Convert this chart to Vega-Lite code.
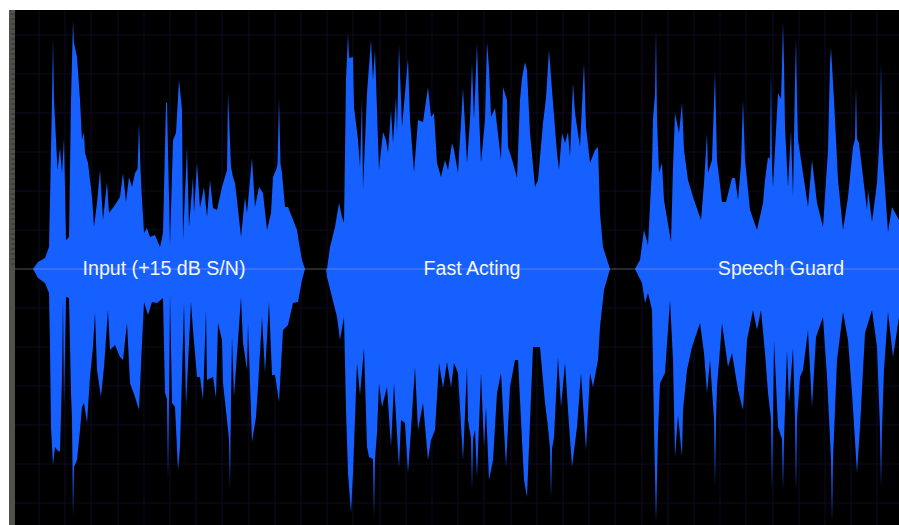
{"$schema":"https://vega.github.io/schema/vega-lite/v6.json","width":890,"height":515,"autosize":{"type":"none"},"padding":{"left":9,"top":10,"right":0,"bottom":0},"background":"#ffffff","view":{"fill":"#000000","stroke":null},
"datasets":{
"upper":[{"t":33,"a":0},{"t":38,"a":7},{"t":45,"a":11},{"t":49,"a":22},{"t":50,"a":69},{"t":52,"a":169},{"t":53,"a":231},{"t":54,"a":169},{"t":56,"a":129},{"t":57.5,"a":99},{"t":60,"a":121},{"t":62,"a":96},{"t":64,"a":131},{"t":66,"a":29},{"t":69,"a":32},{"t":71,"a":169},{"t":73,"a":248},{"t":74,"a":226},{"t":77,"a":212},{"t":80,"a":169},{"t":82,"a":129},{"t":84,"a":137},{"t":85,"a":116},{"t":88,"a":106},{"t":92,"a":72},{"t":94,"a":42},{"t":97,"a":66},{"t":100,"a":99},{"t":103,"a":49},{"t":107,"a":87},{"t":109,"a":56},{"t":115,"a":64},{"t":120,"a":72},{"t":123,"a":96},{"t":126,"a":67},{"t":129,"a":92},{"t":132,"a":82},{"t":135,"a":96},{"t":137.5,"a":100},{"t":139,"a":146},{"t":140.5,"a":100},{"t":142,"a":69},{"t":144,"a":36},{"t":147,"a":41},{"t":150,"a":32},{"t":155,"a":34},{"t":160,"a":22},{"t":163,"a":36},{"t":166,"a":166},{"t":167,"a":167},{"t":170,"a":24},{"t":173,"a":129},{"t":176,"a":136},{"t":179,"a":189},{"t":182,"a":159},{"t":183,"a":29},{"t":187,"a":122},{"t":189,"a":42},{"t":193,"a":92},{"t":194,"a":56},{"t":197,"a":106},{"t":200,"a":61},{"t":204,"a":82},{"t":207,"a":52},{"t":210,"a":89},{"t":213,"a":61},{"t":217,"a":59},{"t":222,"a":82},{"t":227,"a":99},{"t":228,"a":176},{"t":231,"a":102},{"t":233,"a":92},{"t":235,"a":86},{"t":237,"a":69},{"t":241,"a":32},{"t":245,"a":72},{"t":247,"a":56},{"t":252,"a":111},{"t":255,"a":62},{"t":259,"a":82},{"t":263,"a":76},{"t":267,"a":39},{"t":271,"a":56},{"t":273,"a":92},{"t":276,"a":99},{"t":277.5,"a":105},{"t":279,"a":171},{"t":280.5,"a":105},{"t":282,"a":96},{"t":285,"a":62},{"t":288,"a":62},{"t":292,"a":52},{"t":297,"a":39},{"t":299,"a":26},{"t":302,"a":9},{"t":305,"a":0},{"t":327,"a":0},{"t":330,"a":22},{"t":335,"a":42},{"t":339,"a":66},{"t":342,"a":52},{"t":344,"a":46},{"t":346,"a":189},{"t":348,"a":236},{"t":349,"a":211},{"t":353,"a":212},{"t":354,"a":162},{"t":358,"a":129},{"t":360,"a":102},{"t":362,"a":171},{"t":363,"a":79},{"t":367,"a":176},{"t":371,"a":229},{"t":373,"a":189},{"t":375,"a":219},{"t":377,"a":159},{"t":379,"a":99},{"t":383,"a":137},{"t":386,"a":129},{"t":388,"a":116},{"t":391,"a":159},{"t":393,"a":126},{"t":396,"a":172},{"t":397,"a":136},{"t":399,"a":224},{"t":402,"a":142},{"t":405,"a":176},{"t":408,"a":211},{"t":410,"a":149},{"t":414,"a":97},{"t":418,"a":149},{"t":423,"a":147},{"t":428,"a":182},{"t":431,"a":152},{"t":434,"a":156},{"t":437,"a":106},{"t":441,"a":92},{"t":445,"a":109},{"t":448,"a":99},{"t":452,"a":126},{"t":454,"a":119},{"t":458,"a":96},{"t":463,"a":181},{"t":467,"a":106},{"t":470,"a":149},{"t":472,"a":206},{"t":474,"a":149},{"t":477,"a":226},{"t":479,"a":156},{"t":481,"a":106},{"t":485,"a":149},{"t":487,"a":227},{"t":489,"a":201},{"t":491,"a":152},{"t":495,"a":161},{"t":501,"a":109},{"t":503,"a":182},{"t":507,"a":169},{"t":508,"a":122},{"t":513,"a":106},{"t":517,"a":91},{"t":520,"a":169},{"t":522,"a":191},{"t":525,"a":207},{"t":527,"a":199},{"t":530,"a":136},{"t":535,"a":82},{"t":538,"a":89},{"t":543,"a":146},{"t":546,"a":171},{"t":549,"a":219},{"t":552,"a":179},{"t":557,"a":116},{"t":559,"a":99},{"t":562,"a":136},{"t":565,"a":126},{"t":568,"a":137},{"t":570,"a":112},{"t":573,"a":186},{"t":575,"a":156},{"t":580,"a":122},{"t":584,"a":206},{"t":586,"a":142},{"t":590,"a":106},{"t":595,"a":119},{"t":598,"a":122},{"t":600,"a":56},{"t":603,"a":22},{"t":610,"a":0},{"t":635,"a":0},{"t":640,"a":9},{"t":644,"a":39},{"t":648,"a":24},{"t":652,"a":102},{"t":653,"a":150},{"t":655,"a":175},{"t":656,"a":241},{"t":657,"a":150},{"t":659,"a":96},{"t":662,"a":106},{"t":664,"a":69},{"t":671,"a":27},{"t":673,"a":102},{"t":675,"a":156},{"t":679,"a":136},{"t":682,"a":166},{"t":684,"a":119},{"t":688,"a":89},{"t":693,"a":72},{"t":701,"a":49},{"t":704,"a":86},{"t":707,"a":136},{"t":708,"a":96},{"t":712,"a":109},{"t":715,"a":197},{"t":717,"a":109},{"t":722,"a":67},{"t":726,"a":67},{"t":732,"a":91},{"t":735,"a":91},{"t":738,"a":69},{"t":741,"a":105},{"t":743,"a":169},{"t":745,"a":109},{"t":750,"a":59},{"t":757,"a":39},{"t":763,"a":66},{"t":765,"a":89},{"t":768,"a":112},{"t":770,"a":110},{"t":771,"a":201},{"t":772,"a":100},{"t":773,"a":82},{"t":778,"a":176},{"t":781,"a":170},{"t":782,"a":205},{"t":783,"a":247},{"t":784,"a":205},{"t":785,"a":142},{"t":788,"a":82},{"t":791,"a":139},{"t":793,"a":72},{"t":795,"a":190},{"t":796,"a":231},{"t":797,"a":170},{"t":798,"a":129},{"t":803,"a":96},{"t":808,"a":62},{"t":812,"a":109},{"t":817,"a":66},{"t":823,"a":42},{"t":828,"a":119},{"t":830,"a":205},{"t":831,"a":221},{"t":834,"a":169},{"t":838,"a":89},{"t":843,"a":39},{"t":848,"a":72},{"t":853,"a":122},{"t":855,"a":130},{"t":856,"a":182},{"t":857,"a":130},{"t":859,"a":126},{"t":863,"a":92},{"t":867,"a":59},{"t":868,"a":79},{"t":872,"a":47},{"t":877,"a":86},{"t":880,"a":140},{"t":881,"a":207},{"t":882,"a":130},{"t":883,"a":109},{"t":888,"a":37},{"t":892,"a":62},{"t":899,"a":49}],
"lower":[{"t":33,"a":0},{"t":38,"a":-9},{"t":45,"a":-14},{"t":49,"a":-24},{"t":50,"a":-78},{"t":51,"a":-158},{"t":53,"a":-196},{"t":55,"a":-178},{"t":57,"a":-181},{"t":60,"a":-183},{"t":62,"a":-108},{"t":63,"a":-31},{"t":64,"a":-138},{"t":66,"a":-28},{"t":69,"a":-29},{"t":71,"a":-124},{"t":72,"a":-150},{"t":73,"a":-248},{"t":74,"a":-198},{"t":77,"a":-191},{"t":80,"a":-161},{"t":82,"a":-138},{"t":84,"a":-134},{"t":87,"a":-154},{"t":90,"a":-108},{"t":93,"a":-78},{"t":95,"a":-44},{"t":97,"a":-101},{"t":101,"a":-128},{"t":104,"a":-98},{"t":108,"a":-41},{"t":110,"a":-81},{"t":115,"a":-76},{"t":120,"a":-88},{"t":123,"a":-91},{"t":127,"a":-54},{"t":130,"a":-114},{"t":135,"a":-128},{"t":139,"a":-141},{"t":142,"a":-74},{"t":144,"a":-33},{"t":148,"a":-46},{"t":152,"a":-33},{"t":157,"a":-34},{"t":163,"a":-29},{"t":165,"a":-124},{"t":167,"a":-130},{"t":168,"a":-211},{"t":169,"a":-130},{"t":170,"a":-24},{"t":172,"a":-134},{"t":175,"a":-138},{"t":178,"a":-201},{"t":180,"a":-178},{"t":184,"a":-34},{"t":186,"a":-138},{"t":191,"a":-33},{"t":193,"a":-61},{"t":197,"a":-108},{"t":200,"a":-108},{"t":203,"a":-131},{"t":206,"a":-41},{"t":207,"a":-111},{"t":213,"a":-108},{"t":216,"a":-129},{"t":218,"a":-54},{"t":222,"a":-71},{"t":223,"a":-114},{"t":227,"a":-151},{"t":229,"a":-170},{"t":230,"a":-221},{"t":231,"a":-130},{"t":232,"a":-68},{"t":234,"a":-128},{"t":241,"a":-28},{"t":243,"a":-74},{"t":247,"a":-101},{"t":248,"a":-54},{"t":252,"a":-173},{"t":256,"a":-148},{"t":258,"a":-118},{"t":262,"a":-48},{"t":265,"a":-104},{"t":269,"a":-33},{"t":272,"a":-106},{"t":275,"a":-106},{"t":279,"a":-133},{"t":283,"a":-61},{"t":288,"a":-56},{"t":293,"a":-34},{"t":298,"a":-33},{"t":302,"a":-11},{"t":305,"a":0},{"t":326,"a":0},{"t":327,"a":-8},{"t":332,"a":-28},{"t":337,"a":-48},{"t":340,"a":-71},{"t":344,"a":-48},{"t":346,"a":-141},{"t":348,"a":-204},{"t":351,"a":-244},{"t":353,"a":-204},{"t":357,"a":-94},{"t":360,"a":-126},{"t":364,"a":-79},{"t":367,"a":-178},{"t":369,"a":-188},{"t":373,"a":-190},{"t":374,"a":-248},{"t":375,"a":-190},{"t":377,"a":-164},{"t":379,"a":-114},{"t":382,"a":-138},{"t":387,"a":-118},{"t":391,"a":-178},{"t":394,"a":-114},{"t":399,"a":-199},{"t":401,"a":-151},{"t":405,"a":-154},{"t":408,"a":-204},{"t":411,"a":-161},{"t":415,"a":-98},{"t":418,"a":-161},{"t":423,"a":-134},{"t":428,"a":-191},{"t":431,"a":-171},{"t":435,"a":-161},{"t":439,"a":-94},{"t":443,"a":-119},{"t":447,"a":-93},{"t":451,"a":-118},{"t":454,"a":-94},{"t":458,"a":-104},{"t":463,"a":-191},{"t":467,"a":-98},{"t":468,"a":-151},{"t":471,"a":-170},{"t":472,"a":-221},{"t":473,"a":-170},{"t":475,"a":-161},{"t":477,"a":-208},{"t":481,"a":-104},{"t":484,"a":-178},{"t":486,"a":-138},{"t":489,"a":-211},{"t":493,"a":-191},{"t":497,"a":-124},{"t":501,"a":-104},{"t":506,"a":-198},{"t":510,"a":-118},{"t":515,"a":-91},{"t":518,"a":-91},{"t":524,"a":-211},{"t":527,"a":-228},{"t":533,"a":-78},{"t":540,"a":-78},{"t":545,"a":-134},{"t":548,"a":-158},{"t":550,"a":-180},{"t":551,"a":-229},{"t":552,"a":-180},{"t":554,"a":-168},{"t":558,"a":-88},{"t":561,"a":-138},{"t":565,"a":-94},{"t":568,"a":-141},{"t":572,"a":-198},{"t":577,"a":-158},{"t":581,"a":-104},{"t":586,"a":-181},{"t":590,"a":-104},{"t":593,"a":-118},{"t":598,"a":-91},{"t":600,"a":-58},{"t":604,"a":-21},{"t":610,"a":0},{"t":635,"a":0},{"t":637,"a":-4},{"t":642,"a":-14},{"t":645,"a":-34},{"t":648,"a":-24},{"t":652,"a":-41},{"t":654,"a":-158},{"t":656,"a":-254},{"t":658,"a":-164},{"t":660,"a":-114},{"t":665,"a":-104},{"t":670,"a":-31},{"t":673,"a":-91},{"t":675,"a":-188},{"t":678,"a":-146},{"t":682,"a":-188},{"t":683,"a":-141},{"t":687,"a":-101},{"t":692,"a":-78},{"t":700,"a":-54},{"t":704,"a":-84},{"t":707,"a":-124},{"t":710,"a":-91},{"t":714,"a":-150},{"t":715,"a":-218},{"t":716,"a":-150},{"t":717,"a":-118},{"t":722,"a":-54},{"t":728,"a":-98},{"t":732,"a":-84},{"t":738,"a":-121},{"t":743,"a":-141},{"t":747,"a":-71},{"t":753,"a":-41},{"t":757,"a":-61},{"t":761,"a":-41},{"t":765,"a":-84},{"t":768,"a":-124},{"t":771,"a":-150},{"t":772,"a":-221},{"t":773,"a":-150},{"t":774,"a":-71},{"t":778,"a":-158},{"t":782,"a":-170},{"t":783,"a":-221},{"t":784,"a":-170},{"t":787,"a":-81},{"t":789,"a":-134},{"t":793,"a":-79},{"t":795,"a":-150},{"t":796,"a":-224},{"t":797,"a":-150},{"t":800,"a":-108},{"t":803,"a":-101},{"t":808,"a":-61},{"t":812,"a":-138},{"t":816,"a":-68},{"t":823,"a":-48},{"t":827,"a":-108},{"t":831,"a":-190},{"t":832,"a":-254},{"t":833,"a":-190},{"t":837,"a":-91},{"t":843,"a":-43},{"t":848,"a":-71},{"t":852,"a":-124},{"t":857,"a":-204},{"t":860,"a":-158},{"t":865,"a":-64},{"t":872,"a":-41},{"t":877,"a":-78},{"t":880,"a":-160},{"t":881,"a":-218},{"t":882,"a":-160},{"t":884,"a":-101},{"t":888,"a":-43},{"t":893,"a":-88},{"t":899,"a":-48}],
"labels":[{"t":164,"a":0,"label":"Input (+15 dB S/N)"},{"t":472,"a":0,"label":"Fast Acting"},{"t":781,"a":0,"label":"Speech Guard"}],
"gridx":[{"t":39},{"t":65},{"t":91},{"t":118},{"t":144},{"t":170},{"t":196},{"t":222},{"t":249},{"t":275},{"t":301},{"t":327},{"t":353},{"t":380},{"t":406},{"t":432},{"t":458},{"t":484},{"t":511},{"t":537},{"t":563},{"t":589},{"t":615},{"t":642},{"t":668},{"t":694},{"t":720},{"t":746},{"t":773},{"t":799},{"t":825},{"t":851},{"t":877}],
"gridy":[{"a":-234},{"a":-195},{"a":-156},{"a":-117},{"a":-78},{"a":-39},{"a":39},{"a":78},{"a":117},{"a":156},{"a":195},{"a":234}],
"ticks":[{"a":255},{"a":250},{"a":245},{"a":240},{"a":235},{"a":230},{"a":225},{"a":220},{"a":215},{"a":210},{"a":205},{"a":200},{"a":195},{"a":190},{"a":185},{"a":180},{"a":175},{"a":170},{"a":165},{"a":160},{"a":155},{"a":150},{"a":145},{"a":140},{"a":135},{"a":130},{"a":125},{"a":120},{"a":115},{"a":110},{"a":105},{"a":100},{"a":95},{"a":90},{"a":85},{"a":80},{"a":75},{"a":70},{"a":65},{"a":60},{"a":55},{"a":50},{"a":45},{"a":40},{"a":35},{"a":30},{"a":25},{"a":20},{"a":15},{"a":10},{"a":5}]
},
"layer":[
{"data":{"name":"gridx"},"mark":{"type":"rule","color":"#0d0b22","strokeWidth":1},"encoding":{"x":{"field":"t","type":"quantitative","scale":{"domain":[9,899],"nice":false,"zero":false},"axis":null}}},
{"data":{"name":"gridy"},"mark":{"type":"rule","color":"#0d0b22","strokeWidth":1},"encoding":{"y":{"field":"a","type":"quantitative","scale":{"domain":[-256,259],"nice":false,"zero":false},"axis":null}}},
{"data":{"name":"upper"},"mark":{"type":"area","color":"#1560ff","interpolate":"linear"},"encoding":{"x":{"field":"t","type":"quantitative","axis":null},"y":{"field":"a","type":"quantitative","axis":null},"y2":{"datum":0}}},
{"data":{"name":"lower"},"mark":{"type":"area","color":"#1560ff","interpolate":"linear"},"encoding":{"x":{"field":"t","type":"quantitative","axis":null},"y":{"field":"a","type":"quantitative","axis":null},"y2":{"datum":0}}},
{"data":{"values":[{}]},"mark":{"type":"rule","color":"#b4b4c4","opacity":0.45,"strokeWidth":1},"encoding":{"x":{"datum":15,"axis":null},"x2":{"datum":899},"y":{"datum":0,"axis":null}}},
{"data":{"values":[{}]},"mark":{"type":"rect","color":"#50504c"},"encoding":{"x":{"datum":9,"axis":null},"x2":{"datum":15},"y":{"datum":-256,"axis":null},"y2":{"datum":259}}},
{"data":{"name":"ticks"},"mark":{"type":"rule","color":"#303030","strokeWidth":1},"encoding":{"x":{"datum":11,"axis":null},"x2":{"datum":15},"y":{"field":"a","type":"quantitative","axis":null}}},
{"data":{"name":"labels"},"mark":{"type":"text","color":"#f4f6ff","font":"Liberation Sans","fontSize":19.6,"align":"center","baseline":"middle"},"encoding":{"x":{"field":"t","type":"quantitative","axis":null},"y":{"field":"a","type":"quantitative","axis":null},"text":{"field":"label","type":"nominal"}}}
]}
